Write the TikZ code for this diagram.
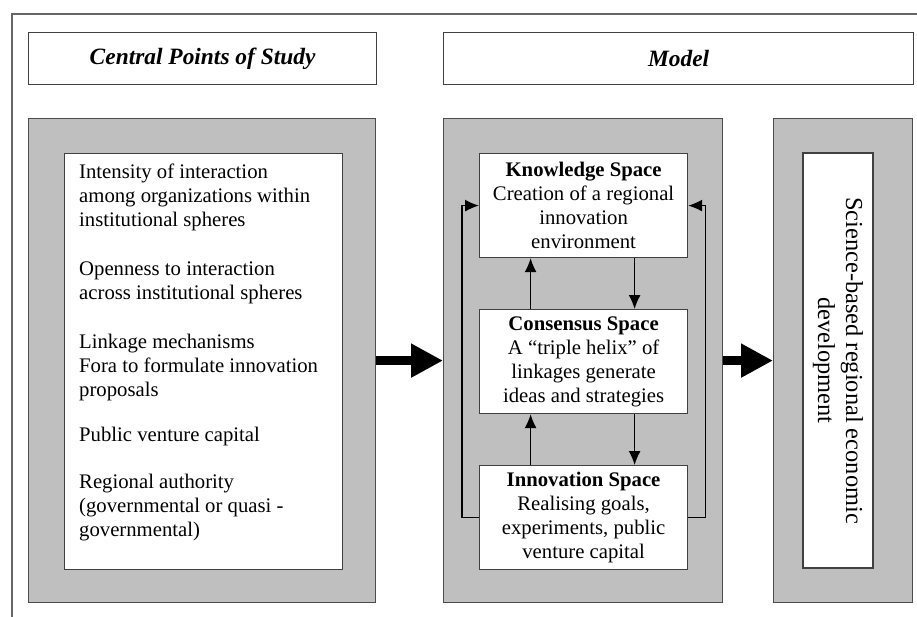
\documentclass[tikz,border=0pt]{standalone}
\usepackage{fontspec}
\setmainfont{Liberation Serif}
\usetikzlibrary{arrows.meta}
\tikzset{
	panel/.style={draw=black!70, line width=1.2pt, fill=black!25, anchor=north west, inner sep=0pt},
	whitebox/.style={draw=black!75, line width=1.2pt, fill=white, anchor=north west, inner sep=0pt},
	headbox/.style={whitebox, font=\fontsize{23.5}{27}\selectfont\bfseries\itshape},
	body/.style={font=\fontsize{20.8}{24}\selectfont, inner sep=0pt},
	link/.style={line width=1.3pt, -{Latex[length=14bp,width=12bp]}},
	bigarrow/.style={line width=9bp, -{Triangle[length=32bp,width=32bp]}}
}

\begin{document}
\begin{tikzpicture}[x=1bp, y=-1bp]
			%%%%% START %%%%%
			\useasboundingbox (0, 0) rectangle (917, 617);
			
			\draw[black!60, line width=1.5pt] (12, 617) -- (12, 14) -- (917, 14);
			
			\node[headbox, minimum width=348bp, minimum height=52bp] (points) at (28, 32) {Central Points of Study};
			\node[headbox, minimum width=470bp, minimum height=52bp] (model) at (443, 32) {Model};
			
			\node[panel, minimum width=347bp, minimum height=484bp] (left) at (28, 118) {};
			\node[panel, minimum width=279bp, minimum height=484bp] (mid) at (443, 118) {};
			\node[panel, minimum width=139bp, minimum height=484bp] (right) at (773, 118) {};
			
			\node[whitebox, minimum width=278bp, minimum height=416bp] (study) at (64, 153) {};
			\node[body, anchor=north west, align=left] (list) at (79, 164) {Intensity of interaction\\among organizations within\\institutional spheres\\[25bp]Openness to interaction\\across institutional spheres\\[25bp]Linkage mechanisms\\Fora to formulate innovation\\proposals\\[21bp]Public venture capital\\[24bp]Regional authority\\(governmental or quasi -\\governmental)};
			
			\node[whitebox, body, align=center, minimum width=208bp, minimum height=104bp] (know) at (479, 153) {\textbf{Knowledge Space}\\Creation of a regional\\innovation\\environment};
			\node[whitebox, body, align=center, minimum width=208bp, minimum height=104bp] (cons) at (479, 309) {\textbf{Consensus Space}\\A ``triple helix'' of\\linkages generate\\ideas and strategies};
			\node[whitebox, body, align=center, minimum width=208bp, minimum height=104bp] (innov) at (479, 465) {\textbf{Innovation Space}\\Realising goals,\\experiments, public\\venture capital};
			
			\node[whitebox, anchor=center, rotate=-90, align=center, minimum width=415bp, minimum height=70bp, font=\fontsize{24.5}{28}\selectfont] (goal) at (838, 360.5) {Science-based regional economic\\development};
			
			\draw[bigarrow] (left.east) -- (mid.west);
			\draw[bigarrow] (mid.east) -- (right.west);
			
			\draw[link] ([xshift=-53bp]cons.north) -- ([xshift=-53bp]know.south);
			\draw[link] ([xshift=51bp]know.south) -- ([xshift=51bp]cons.north);
			\draw[link] ([xshift=-53bp]innov.north) -- ([xshift=-53bp]cons.south);
			\draw[link] ([xshift=51bp]cons.south) -- ([xshift=51bp]innov.north);
			
			\draw[link] (innov.west) -- ++(-17, 0) |- (know.west);
			\draw[link] (innov.east) -- ++(17, 0) |- (know.east);
			%%%%% END %%%%%
\end{tikzpicture}
\end{document}
